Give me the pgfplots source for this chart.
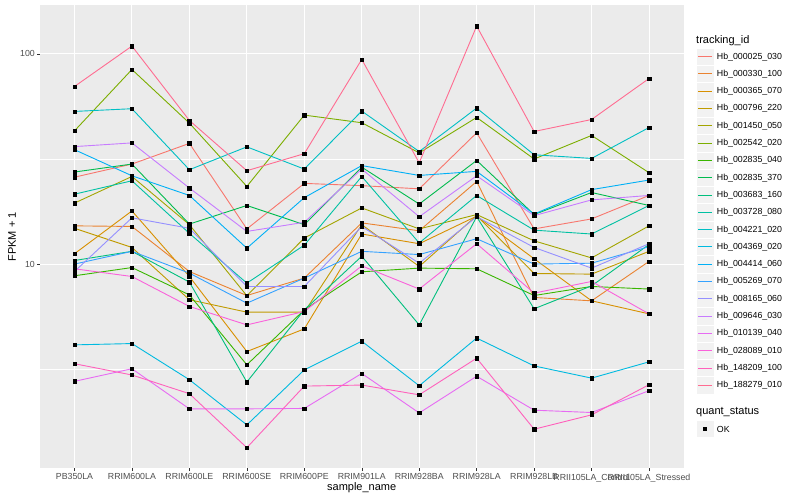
\documentclass[border=0pt]{standalone}
\usepackage{fontspec}
\setmainfont{Liberation Sans}
\usepackage{pgfplots}
\usepackage{pgfplotstable}
\pgfplotsset{compat=1.18}

% ggplot hue palette, 20 levels
\definecolor{s01}{HTML}{F8766D}
\definecolor{s02}{HTML}{EA8331}
\definecolor{s03}{HTML}{D89000}
\definecolor{s04}{HTML}{C09B00}
\definecolor{s05}{HTML}{A3A500}
\definecolor{s06}{HTML}{7CAE00}
\definecolor{s07}{HTML}{39B600}
\definecolor{s08}{HTML}{00BB4E}
\definecolor{s09}{HTML}{00BF7D}
\definecolor{s10}{HTML}{00C1A3}
\definecolor{s11}{HTML}{00BFC4}
\definecolor{s12}{HTML}{00BAE0}
\definecolor{s13}{HTML}{00B0F6}
\definecolor{s14}{HTML}{35A2FF}
\definecolor{s15}{HTML}{9590FF}
\definecolor{s16}{HTML}{C77CFF}
\definecolor{s17}{HTML}{E76BF3}
\definecolor{s18}{HTML}{FA62DB}
\definecolor{s19}{HTML}{FF62BC}
\definecolor{s20}{HTML}{FF6C91}
\definecolor{panelbg}{HTML}{EBEBEB}
\definecolor{keybg}{HTML}{F2F2F2}
\definecolor{ticktext}{HTML}{4D4D4D}
\definecolor{tickmark}{HTML}{333333}

% FPKM + 1, one row per sample (x = 0..10), one column per tracking_id
\pgfplotstableread{
x  s01  s02   s03   s04   s05  s06  s07   s08  s09   s10  s11  s12   s13  s14   s15   s16  s17   s18   s19   s20
0  25.9 15.2  11.2  14.8  19.5 43.0 8.80  27.4 10.4  21.5 53.2 4.13  35.0 10.0  9.22  36.2 2.77  9.50  3.36  69.9
1  29.9 15.1  17.9  12.0  26.1 84.2 9.63  29.9 11.5  24.9 54.8 4.19  26.3 11.5  16.6  37.7 3.18  8.73  2.97  108.8
2  37.5 9.22  8.73  6.77  15.4 46.8 7.14  15.5 8.21  14.0 28.1 2.82  21.2 9.06  14.8  23.0 2.05  6.29  2.42  48.2
3  14.7 7.09  3.84  5.91  7.07 23.4 3.32  19.0 2.75  8.12 36.1 1.72  11.9 6.52  7.83  14.3 2.05  5.14  1.34  27.8
4  24.2 8.58  4.92  5.91  13.3 51.1 6.06  15.4 6.06  12.3 28.3 3.14  20.7 8.58  7.83  15.8 2.06  5.95  2.63  33.5
5  23.6 15.7  13.9  15.4  18.5 47.0 9.19  28.9 10.9  26.1 53.4 4.30  29.4 11.5  15.1  28.3 3.02  9.81  2.66  94.0
6  22.8 14.4  12.5  9.74  14.7 33.8 9.57  19.3 5.14  12.6 34.3 2.64  26.4 11.1  10.1  16.8 1.96  7.61  2.39  30.3
7  42.1 24.7  16.9  17.0  17.2 49.8 9.50  31.1 16.8  21.2 55.2 4.45  27.6 13.2  16.8  26.3 2.93  12.5  3.57  135.4
8  14.7 6.94  10.6  9.02  12.9 31.6 7.09  17.2 6.13  14.5 33.1 3.28  17.3 10.0  12.0  17.0 2.02  7.28  1.64  42.7
9  16.4 6.69  6.69  8.96  10.7 40.9 7.83  21.9 7.88  13.9 31.8 2.87  22.6 10.1  9.57  20.2 1.97  8.27  1.92  48.7
10 21.2 10.3  5.80  11.5  15.2 27.2 7.61  19.0 12.4  19.0 44.6 3.43  25.1 12.1  12.5  21.2 2.50  5.80  2.67  76.3
}\fpkm

\begin{document}
\begin{tikzpicture}[x=1pt,y=1pt]
\path[use as bounding box] (0,0) rectangle (800,500);
\begin{axis}[
    at={(40pt,31.5pt)}, anchor=south west,
    scale only axis, width=643.5pt, height=463.5pt,
    xmin=-0.6, xmax=10.6,
    ymode=log, ymin=1.067, ymax=170.6,
    xtick={0,...,10},
    xticklabels={PB350LA,RRIM600LA,RRIM600LE,RRIM600SE,RRIM600PE,RRIM901LA,RRIM928BA,RRIM928LA,RRIM928LB,RRII105LA\_Control,RRII105LA\_Stressed},
    ytick={10,100}, yticklabels={10,100},
    minor ytick={3.1623,31.623},
    grid=both,
    major grid style={white, line width=1.05pt},
    minor grid style={white, line width=0.55pt},
    axis background/.style={fill=panelbg},
    axis line style={draw=none},
    tick align=outside, tick pos=left,
    major tick length=2.75pt, minor tick length=0pt,
    tick style={tickmark, line width=0.5pt},
    ticklabel style={font=\fontsize{8.8}{10}\selectfont, text=ticktext, inner sep=0pt},
    xticklabel style={anchor=north, yshift=-2.2pt},
    yticklabel style={anchor=east, xshift=-2.2pt},
    /pgf/number format/assume math mode=true,
]
\pgfplotsinvokeforeach{01,02,03,04,05,06,07,08,09,10,11,12,13,14,15,16,17,18,19,20}{
  \addplot[s#1, line width=0.9pt, mark=none] table[x=x, y=s#1] {\fpkm};
}
\pgfplotsinvokeforeach{01,02,03,04,05,06,07,08,09,10,11,12,13,14,15,16,17,18,19,20}{
  \addplot[only marks, mark=square*, mark size=1.7pt, black] table[x=x, y=s#1] {\fpkm};
}
\end{axis}

% axis titles
\node[font=\fontsize{11}{13}\selectfont] at (361.7,12) {sample\_name};
\node[font=\fontsize{11}{13}\selectfont, rotate=90] at (12,263) {FPKM + 1};

% legend: tracking_id
\node[anchor=west, inner sep=0pt, font=\fontsize{11}{13}\selectfont] at (696,459.3) {tracking\_id};
\foreach \keycol/\lab [count=\i from 0] in {
  s01/Hb\_000025\_030, s02/Hb\_000330\_100, s03/Hb\_000365\_070, s04/Hb\_000796\_220,
  s05/Hb\_001450\_050, s06/Hb\_002542\_020, s07/Hb\_002835\_040, s08/Hb\_002835\_370,
  s09/Hb\_003683\_160, s10/Hb\_003728\_080, s11/Hb\_004221\_020, s12/Hb\_004369\_020,
  s13/Hb\_004414\_060, s14/Hb\_005269\_070, s15/Hb\_008165\_060, s16/Hb\_009646\_030,
  s17/Hb\_010139\_040, s18/Hb\_028089\_010, s19/Hb\_148209\_100, s20/Hb\_188279\_010} {
  \pgfmathsetmacro{\yc}{443.3-17.3*\i}
  \filldraw[fill=keybg, draw=white, line width=0.5pt] (696.5,\yc-8.65) rectangle (713.8,\yc+8.65);
  \draw[color=\keycol, line width=1pt] (698.2,\yc) -- (712.1,\yc);
  \node[anchor=west, inner sep=0pt, font=\fontsize{8.8}{10}\selectfont] at (716.7,\yc) {\lab};
}

% legend: quant_status
\node[anchor=west, inner sep=0pt, font=\fontsize{11}{13}\selectfont] at (696,87.7) {quant\_status};
\filldraw[fill=keybg, draw=white, line width=0.5pt] (696.5,71-8.65) rectangle (713.8,71+8.65);
\fill[black] (703.45,69.3) rectangle (706.85,72.7);
\node[anchor=west, inner sep=0pt, font=\fontsize{8.8}{10}\selectfont] at (716.7,71) {OK};
\end{tikzpicture}
\end{document}
